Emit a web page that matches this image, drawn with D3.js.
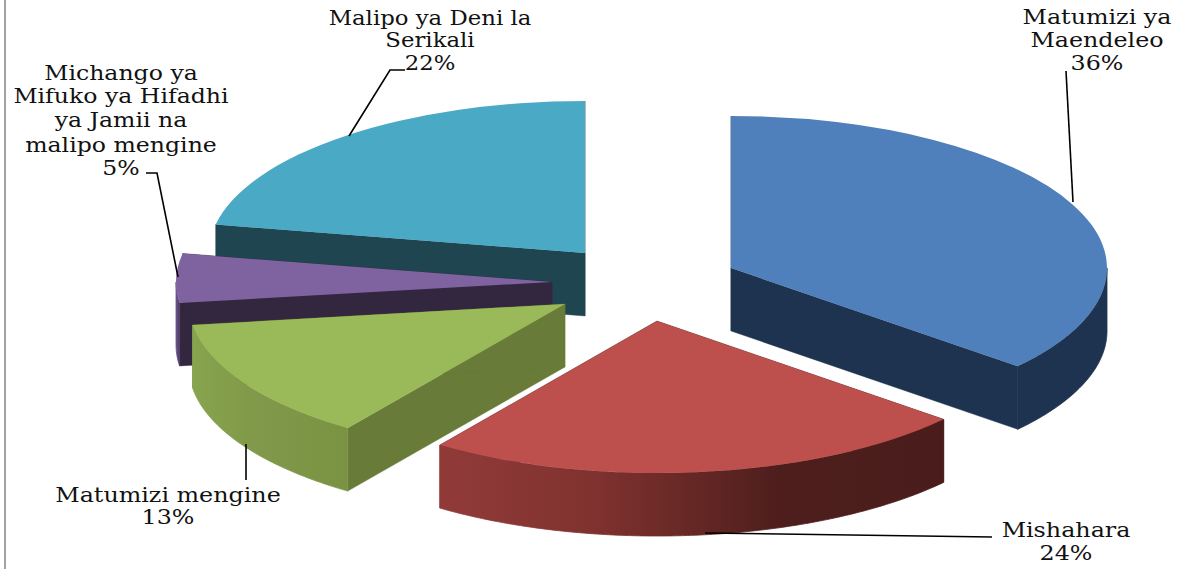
<!DOCTYPE html>
<html>
<head>
<meta charset="utf-8">
<script src="https://cdn.jsdelivr.net/npm/d3@7/dist/d3.min.js"></script>
<style>
html,body{margin:0;padding:0;background:#fff;overflow:hidden}
text{font-family:"DejaVu Serif",serif;font-size:20px;fill:#111;text-anchor:middle}
</style>
</head>
<body>
<svg id="chart" width="1179" height="569"></svg>
<script>
// Data
const categories = ["Matumizi ya Maendeleo","Mishahara","Matumizi mengine","Michango ya Mifuko ya Hifadhi ya Jamii na malipo mengine","Malipo ya Deni la Serikali"];
const values = [36.2,23.6,13.0,5.2,22.0];
const labelLines = [["Matumizi ya","Maendeleo"],["Mishahara"],["Matumizi mengine"],["Michango ya","Mifuko ya Hifadhi","ya Jamii na","malipo mengine"],["Malipo ya Deni la","Serikali"]];
const topColors = ["#4f80bc","#bd4f4c","#9aba59","#7f62a0","#4aa9c4"];
const wallColors = ["#1e3350","#4b1d1c","#687b39","#33273f","#1f4550"];
const rimStops = [
  [["0","#1e3350"],["1","#1e3350"]],
  [["0","#913b39"],["0.3","#80322f"],["0.5","#662825"],["0.68","#4d1e1c"],["1","#4a1d1c"]],
  [["0","#88a44e"],["0.4","#80994a"],["1","#7a9343"]],
  [["0","#6a5388"],["1","#4e3b68"]],
  [["0","#1f4550"],["1","#1f4550"]]
];
// Layout
const W = 1179, H = 569;
const centres = [[731,268],[657,321],[565,304],[552,282],[585,253]];
const rx = 376, ry = 152, depth = 63;
const textStretch = [1.19,1.19,1.19,1.18,1.14];
const paintOrder = [4,3,2,0,1];
const labelAnchors = [[1097,[24,47,70]],[1066,[537,560]],[168,[502,524]],[121,[80,103,127,152,175]],[430,[25,47,70]]];
const leaderPaths = [
  [[1066,71],[1073,202]],
  [[705,533],[992,537]],
  [[246,444],[246,480]],
  [[146,173],[157,173],[178,277]],
  [[405,70],[390,70],[349,136]]
];

const svg = d3.select("#chart");
const defs = svg.append("defs");
const arcs = d3.pie().sort(null).value(d => d)(values);
const px = d3.scaleLinear().domain([0,1]).range([0,rx]);
const py = d3.scaleLinear().domain([0,1]).range([0,-ry]);
const line = d3.line();
const pt = (c,a,r,z) => [c[0]+px(r*Math.sin(a)), c[1]+py(r*Math.cos(a))+z];
const topArc = d3.arc().innerRadius(0).outerRadius(rx);

// outer edge polyline in the projected ellipse
function rimPath(c,a0,a1){
  const n = Math.max(2,Math.ceil((a1-a0)*90));
  const as = d3.range(n+1).map(i => a0+(a1-a0)*i/n);
  return line(as.map(a=>pt(c,a,1,0)).concat(as.slice().reverse().map(a=>pt(c,a,1,depth))))+"Z";
}

paintOrder.forEach(i => {
  const d = arcs[i], c = centres[i];
  const g = svg.append("g").attr("class","slice");
  const a0 = Math.max(d.startAngle,Math.PI/2), a1 = Math.min(d.endAngle,Math.PI*1.5);
  // radial walls
  [d.startAngle,d.endAngle].forEach(a=>{
    const p = pt(c,a,1,0);
    g.append("path").attr("fill",wallColors[i]).attr("stroke",wallColors[i]).attr("stroke-width",0.4)
      .attr("d",line([c,p,[p[0],p[1]+depth],[c[0],c[1]+depth]])+"Z");
  });
  // rim
  if(a1>a0){
    const xs = [pt(c,a0,1,0)[0],pt(c,a1,1,0)[0]];
    const gid = "rim"+i;
    const lg = defs.append("linearGradient").attr("id",gid).attr("gradientUnits","userSpaceOnUse")
      .attr("x1",d3.min(xs)).attr("x2",d3.max(xs)).attr("y1",0).attr("y2",0);
    rimStops[i].forEach(s=>lg.append("stop").attr("offset",s[0]).attr("stop-color",s[1]));
    g.append("path").attr("fill",`url(#${gid})`).attr("stroke",`url(#${gid})`).attr("stroke-width",0.8).attr("d",rimPath(c,a0,a1));
  }
  // top face
  g.append("path").attr("fill",topColors[i])
    .attr("transform",`translate(${c[0]},${c[1]}) scale(1,${ry/rx})`)
    .attr("d",topArc(d));
});

// frame
svg.append("line").attr("x1",5).attr("x2",5).attr("y1",0).attr("y2",H)
  .attr("stroke","#a3a3a3").attr("stroke-width",2);

// leaders
leaderPaths.forEach(p=>svg.append("path").attr("d",line(p)).attr("fill","none").attr("stroke","#000").attr("stroke-width",1.6));

// labels
labelLines.forEach((lines,i)=>{
  const [x,ys] = labelAnchors[i];
  lines.concat([Math.round(values[i])+"%"]).forEach((t,j)=>{
    svg.append("text").attr("transform",`translate(${x},${ys[j]}) scale(${textStretch[i]},1)`).text(t);
  });
});
</script>
</body>
</html>
